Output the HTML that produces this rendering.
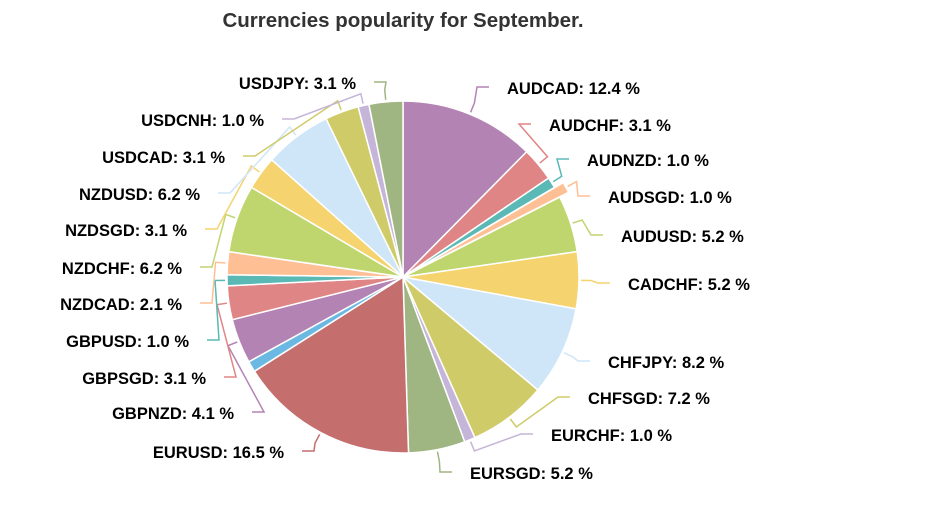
<!DOCTYPE html>
<html><head><meta charset="utf-8"><style>
body{margin:0;background:#fff;}
svg{display:block;font-family:"Liberation Sans",Arial,sans-serif;}
text{font-weight:bold;font-size:16.5px;fill:#000;}
</style></head><body>
<svg id="s" width="928" height="510" xmlns="http://www.w3.org/2000/svg">
<text x="403" y="27" text-anchor="middle" style="font-size:20.5px;fill:#333">Currencies popularity for September.</text>
</svg>
<script>
var d=[
["AUDCAD",12.4,"#b384b3",507,88],
["AUDCHF",3.1,"#e08585",549,125],
["AUDNZD",1.0,"#5ab8b5",587,160],
["AUDSGD",1.0,"#ffbf94",608,197],
["AUDUSD",5.2,"#bfd66e",621,236],
["CADCHF",5.2,"#f5d36e",628,284],
["CHFJPY",8.2,"#cfe6f8",608,362],
["CHFSGD",7.2,"#d0cb69",588,398],
["EURCHF",1.0,"#c5b5d9",551,435],
["EURSGD",5.2,"#9fb582",470,473],
["EURUSD",16.5,"#c46e6e",284,452],
["",1.0,"#6bb9e3",0,0],
["GBPNZD",4.1,"#b384b3",234,413],
["GBPSGD",3.1,"#e08585",206,378],
["GBPUSD",1.0,"#5ab8b5",189,341],
["NZDCAD",2.1,"#ffbf94",182,304],
["NZDCHF",6.2,"#bfd66e",182,268],
["NZDSGD",3.1,"#f5d36e",187,230],
["NZDUSD",6.2,"#cfe6f8",200,194],
["USDCAD",3.1,"#d0cb69",225,157],
["USDCNH",1.0,"#c5b5d9",264,120],
["USDJPY",3.1,"#9fb582",356,83]];
var tot=0;d.forEach(function(e){tot+=e[1];});
var cx=403,cy=277,r=176,a=0,s=document.getElementById('s'),h="";
function pt(an,rr,ox,oy){return [ox+rr*Math.sin(an),oy-rr*Math.cos(an)];}
d.forEach(function(e,i){
 var a0=a,a1=a+e[1]/tot*2*Math.PI;a=a1;var m=(a0+a1)/2;
 var ox=cx,oy=cy;if(e[0]=="AUDSGD"){ox+=10*Math.sin(m);oy-=10*Math.cos(m);}
 var p0=pt(a0,r,ox,oy),p1=pt(a1,r,ox,oy);
 h+='<path d="M'+ox+','+oy+'L'+p0[0]+','+p0[1]+'A'+r+','+r+' 0 '+((a1-a0)>Math.PI?1:0)+' 1 '+p1[0]+','+p1[1]+'Z" fill="'+e[2]+'" stroke="#fff" stroke-width="1.5"/>';
 if(e[0]){
  var q=pt(m,r+2,ox,oy),right=q[0]>cx;
  var tx=e[3],ty=e[4];
  var ex=right?tx-18:tx+18,el=right?tx-30:tx+30;
  h+='<polyline points="'+q[0]+','+q[1]+' '+pt(m,r+12,ox,oy).join(',')+' '+el+','+(ty-1)+' '+ex+','+(ty-1)+'" fill="none" stroke="'+e[2]+'" stroke-width="1.5"/>';
  h+='<text x="'+tx+'" y="'+(ty+6)+'" text-anchor="'+(right?'start':'end')+'">'+e[0]+': '+e[1].toFixed(1)+' %</text>';
 }
});
s.insertAdjacentHTML('beforeend',h);
</script>
</body></html>
